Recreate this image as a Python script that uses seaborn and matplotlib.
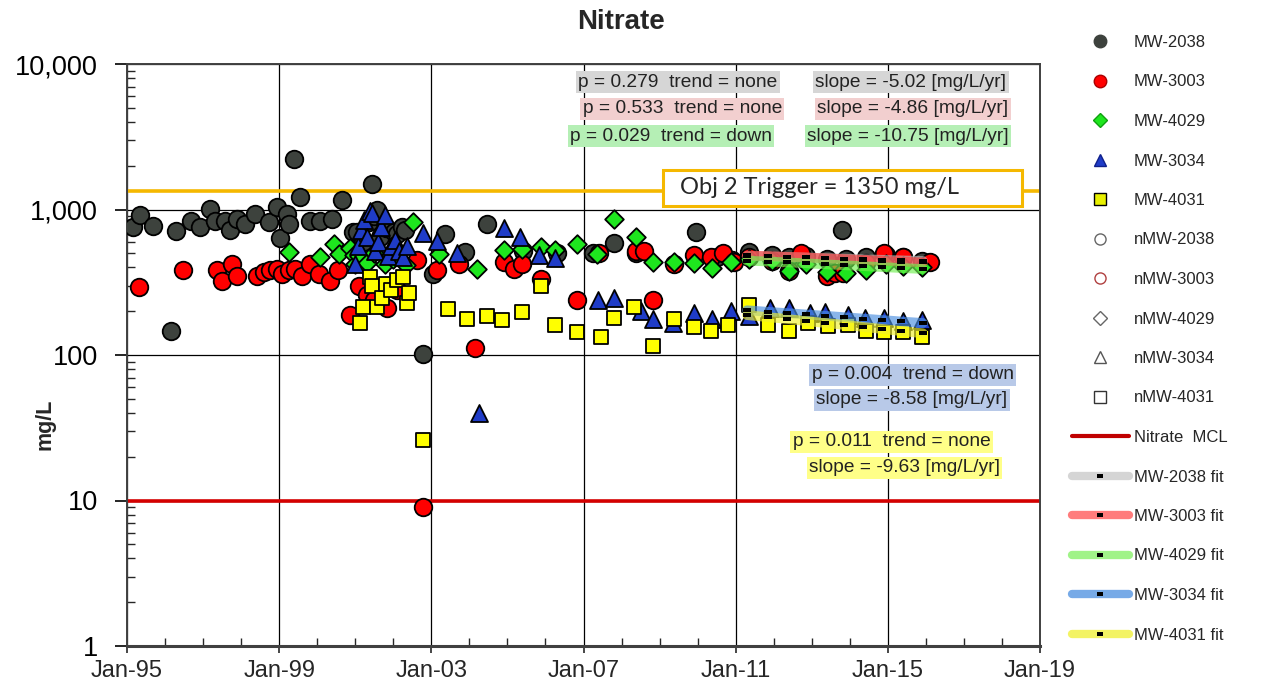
import numpy as np
import pandas as pd
import matplotlib
matplotlib.use("Agg")
import matplotlib.pyplot as plt
import seaborn as sns
from matplotlib.lines import Line2D
from matplotlib.patches import Rectangle
from matplotlib.legend_handler import HandlerTuple
from matplotlib.ticker import FixedLocator, FuncFormatter, LogLocator, NullFormatter

# ---------------- data (decimal years, mg/L) ----------------
mw2038_dates = [1995.15, 1995.34, 1995.69, 1996.15, 1996.29, 1996.68, 1996.92, 1997.18, 1997.32, 1997.58,
                1997.71, 1997.89, 1998.11, 1998.37, 1998.72, 1998.94, 1999.03, 1999.20, 1999.25, 1999.38,
                1999.54, 1999.82, 2000.08, 2000.39, 2000.66, 2000.93,
                2001.05, 2001.20, 2001.35, 2001.44, 2001.50, 2001.57, 2001.65, 2001.80, 2002.01, 2002.10,
                2002.23, 2002.30, 2002.79, 2003.05, 2003.37, 2003.89, 2004.46, 2005.40, 2006.30, 2007.26,
                2007.79, 2008.37, 2009.95, 2010.50, 2010.90,
                2011.35, 2011.95, 2012.40, 2012.84, 2013.39, 2013.79, 2013.89, 2014.42, 2014.94, 2015.41, 2015.89]
mw2038_vals = [757, 910, 768, 147, 710, 831, 757, 1010, 840, 840,
               718, 862, 789, 933, 818, 1038, 638, 933, 797, 2230,
               1228, 840, 840, 862, 1165, 699,
               700, 600, 820, 1500, 900, 985, 650, 750, 699, 680,
               757, 720, 102, 360, 681, 509, 789, 520, 500, 499,
               593, 499, 695, 470, 450,
               510, 490, 470, 480, 460, 718, 455, 470, 490, 475, 440]

mw3003_dates = [1995.32, 1996.46, 1997.36, 1997.49, 1997.75, 1997.89, 1998.41, 1998.59, 1998.76, 1998.94,
                1999.07, 1999.25, 1999.42, 1999.60, 1999.82, 2000.04, 2000.34, 2000.54, 2000.87,
                2001.10, 2001.30, 2001.50, 2001.84, 2002.10, 2002.63, 2002.79, 2003.16, 2003.72, 2004.16,
                2004.90, 2005.17, 2005.39, 2005.88, 2006.83, 2007.40, 2008.37, 2008.58, 2008.82, 2009.37,
                2009.90, 2010.34, 2010.66, 2010.95,
                2011.35, 2011.95, 2012.40, 2012.71, 2013.39, 2013.60, 2013.82, 2014.42, 2014.89, 2015.41, 2016.10]
mw3003_vals = [292, 381, 381, 325, 424, 351, 351, 370, 381, 391,
               361, 381, 391, 351, 424, 361, 325, 381, 187,
               300, 260, 240, 212, 280, 447, 9, 381, 424, 111,
               434, 391, 424, 334, 237, 499, 522, 522, 237, 420,
               483, 468, 506, 433,
               470, 440, 380, 506, 350, 365, 364, 430, 499, 470, 435]

mw4029_dates = [1999.25, 2000.08, 2000.43, 2000.56, 2000.85, 2000.96, 2001.00, 2001.10, 2001.30, 2001.50,
                2001.79, 2002.00, 2002.34, 2002.51, 2003.19, 2004.20, 2004.90, 2005.39, 2005.88, 2006.26,
                2006.82, 2007.35, 2007.79, 2008.37, 2008.82, 2009.37, 2009.90, 2010.39, 2010.87,
                2011.35, 2011.95, 2012.40, 2012.84, 2013.39, 2013.89, 2014.42, 2014.94, 2015.41, 2015.89]
mw4029_vals = [509, 470, 581, 496, 540, 483, 424, 480, 430, 500,
               424, 460, 413, 818, 496, 391, 528, 534, 551, 523,
               581, 496, 867, 643, 433, 433, 426, 399, 433,
               460, 440, 380, 420, 370, 365, 385, 420, 410, 400]

mw3034_dates = [2001.00, 2001.08, 2001.15, 2001.22, 2001.30, 2001.38, 2001.45, 2001.52, 2001.60, 2001.68,
                2001.79, 2001.86, 2001.95, 2002.05, 2002.15, 2002.25, 2002.35,
                2002.79, 2003.16, 2003.68, 2004.24, 2004.90, 2005.34, 2005.82, 2006.26, 2007.37,
                2007.79, 2008.50, 2008.82, 2009.34, 2009.90, 2010.39, 2010.87,
                2011.35, 2011.90, 2012.40, 2012.95, 2013.35, 2013.95, 2014.40, 2014.90, 2015.40, 2015.90]
mw3034_vals = [420, 560, 720, 850, 650, 980, 940, 520, 600, 760,
               910, 480, 560, 620, 520, 470, 560,
               684, 612, 499, 40, 752, 643, 483, 461, 237,
               245, 202, 178, 165, 193, 178, 202,
               185, 212, 209, 193, 196, 187, 180, 181, 170, 173]

mw4031_dates = [2001.13, 2001.21, 2001.39, 2001.45, 2001.58, 2001.71, 2001.80, 2001.95, 2002.10, 2002.25,
                2002.37, 2002.40, 2002.79, 2003.45, 2003.95, 2004.47, 2004.87, 2005.39, 2005.87, 2006.26,
                2006.84, 2007.45, 2007.79, 2008.32, 2008.82, 2009.37, 2009.90, 2010.34, 2010.79,
                2011.35, 2011.84, 2012.40, 2012.89, 2013.42, 2013.95, 2014.42, 2014.90, 2015.40, 2015.89]
mw4031_vals = [167, 215, 341, 300, 213, 248, 310, 280, 330, 341,
               226, 265, 26, 206, 178, 184, 173, 196, 296, 160,
               145, 132, 181, 215, 116, 178, 155, 147, 160,
               222, 160, 147, 167, 157, 160, 147, 143, 143, 134]

fit_dates = [2011.30, 2011.85, 2012.35, 2012.85, 2013.35, 2013.85, 2014.35, 2014.85, 2015.35, 2015.92]
fit_2038 = [480, 476, 472, 468, 463, 459, 455, 451, 447, 443]
fit_3003 = [483, 478, 473, 468, 462, 456, 450, 444, 438, 433]
fit_4029 = [445, 439, 433, 427, 420, 414, 408, 402, 396, 390]
fit_3034 = [203, 198, 194, 190, 186, 182, 178, 174, 170, 166]
fit_4031 = [188, 182, 177, 171, 166, 161, 156, 151, 146, 141]

trigger_value = 1350
mcl_value = 10

x_tick_years = [1995, 1999, 2003, 2007, 2011, 2015, 2019]
x_tick_labels = ["Jan-95", "Jan-99", "Jan-03", "Jan-07", "Jan-11", "Jan-15", "Jan-19"]
y_ticks = [1, 10, 100, 1000, 10000]

stats_text = [
    ("p = 0.279  trend = none", "slope = -5.02 [mg/L/yr]"),
    ("p = 0.533  trend = none", "slope = -4.86 [mg/L/yr]"),
    ("p = 0.029  trend = down", "slope = -10.75 [mg/L/yr]"),
    ("p = 0.004  trend = down", "slope = -8.58 [mg/L/yr]"),
    ("p = 0.011  trend = none", "slope = -9.63 [mg/L/yr]"),
]

# ---------------- style ----------------
sns.set_theme(style="white")
plt.rcParams['font.family'] = ['Liberation Sans', 'DejaVu Sans']

C_GRAY = "#3d423d"
C_RED = "#ff0000"
C_GREEN = "#1ee61e"
C_BLUE = "#1f3cc8"
C_YELLOW = "#ffff00"

fig = plt.figure(figsize=(12.67, 6.88), dpi=100)
ax = fig.add_axes([127 / 1267, 42 / 688, 913 / 1267, 582 / 688])

series = [
    (mw2038_dates, mw2038_vals, "o", C_GRAY, 160),
    (mw3003_dates, mw3003_vals, "o", C_RED, 160),
    (mw4029_dates, mw4029_vals, "D", C_GREEN, 90),
    (mw3034_dates, mw3034_vals, "^", C_BLUE, 150),
    (mw4031_dates, mw4031_vals, "s", C_YELLOW, 110),
]
for i, (d, v, m, c, s) in enumerate(series):
    df = pd.DataFrame({"date": d, "value": v})
    sns.scatterplot(data=df, x="date", y="value", ax=ax, marker=m, color=c, s=s,
                    edgecolor="black", linewidth=1.3, legend=False, zorder=3 + i)

# reference lines
ax.axhline(trigger_value, color="#f5b800", lw=2.6, zorder=2)
ax.axhline(mcl_value, color="#d40000", lw=2.6, zorder=2)

# fits
dash_marker = [(-1, -0.45), (1, -0.45), (1, 0.45), (-1, 0.45), (-1, -0.45)]
fits = [(fit_2038, "#bdbdbd"), (fit_3003, "#ff4040"), (fit_4029, "#70f050"),
        (fit_3034, "#4a8ee0"), (fit_4031, "#f0f030")]
for j, (fv, fc) in enumerate(fits):
    dff = pd.DataFrame({"date": fit_dates, "value": fv})
    sns.lineplot(data=dff, x="date", y="value", ax=ax, color=fc, lw=7, alpha=0.65,
                 estimator=None, legend=False, zorder=10 + j)
    ax.plot(fit_dates, fv, ls="none", marker=dash_marker, ms=6, color="black", mew=0, zorder=16)

# axes
ax.set_yscale("log")
ax.set_ylim(1, 10000)
ax.set_xlim(1995, 2019)
ax.set_xlabel("")
ax.set_ylabel("")
ax.xaxis.set_major_locator(FixedLocator(x_tick_years))
ax.set_xticklabels(x_tick_labels)
ax.xaxis.set_minor_locator(FixedLocator(list(range(1995, 2020))))
ax.yaxis.set_major_locator(FixedLocator(y_ticks))
ax.yaxis.set_major_formatter(FuncFormatter(lambda v, p: f"{v:,.0f}"))
ax.yaxis.set_minor_locator(LogLocator(base=10, subs=np.arange(2, 10)))
ax.yaxis.set_minor_formatter(NullFormatter())
ax.grid(True, which="major", color="black", lw=0.9)
ax.set_axisbelow(True)
ax.tick_params(axis="y", which="major", direction="out", length=9, width=1.2, labelsize=19.5, pad=12,
               colors="black", left=True)
ax.tick_params(axis="y", which="minor", direction="in", length=6, width=1, left=True)
ax.tick_params(axis="x", which="major", direction="out", length=5, width=1.2, labelsize=17, pad=5,
               bottom=True)
ax.tick_params(axis="x", which="minor", direction="in", length=6, width=1, bottom=True)
for sp in ax.spines.values():
    sp.set_color("#404040")
    sp.set_linewidth(1.4)
ax.spines["bottom"].set_linewidth(2.2)

# trigger box
ax.add_patch(Rectangle((0.587, 0.756), 0.393, 0.062, transform=ax.transAxes, facecolor="white",
                       edgecolor="#f5b800", lw=2.2, zorder=20))
ax.text(0.606, 0.787, "Obj 2 Trigger = 1350 mg/L", transform=ax.transAxes, ha="left", va="center",
        fontsize=17, family=["Lato", "DejaVu Sans"], zorder=21)

# stats annotations
pos = [((0.494, 0.969), (0.754, 0.969), "#d6d6d6"),
       ((0.499, 0.923), (0.756, 0.923), "#f2cfcf"),
       ((0.485, 0.876), (0.745, 0.876), "#b5efb5")]
for k, (pp, sp_, bg) in enumerate(pos):
    for (xx, yy), txt in zip([pp, sp_], stats_text[k]):
        ax.text(xx, yy, txt, transform=ax.transAxes, ha="left", va="center", fontsize=13.8,
                color="#222222", zorder=22,
                bbox=dict(boxstyle="square,pad=0.12", facecolor=bg, edgecolor="none"))

for (xx, yy), txt, bg in [((0.750, 0.466), stats_text[3][0], "#b8c9e8"),
                          ((0.755, 0.423), stats_text[3][1], "#b8c9e8"),
                          ((0.729, 0.351), stats_text[4][0], "#ffff88"),
                          ((0.747, 0.306), stats_text[4][1], "#ffff88")]:
    ax.text(xx, yy, txt, transform=ax.transAxes, ha="left", va="center", fontsize=13.8,
            color="#222222", zorder=22, bbox=dict(boxstyle="square,pad=0.12", facecolor=bg, edgecolor="none"))

# title and y label
fig.text(0.49, 1 - 22 / 688, "Nitrate", ha="center", va="center", fontsize=20, fontweight="bold")
fig.text(45 / 1267, 1 - 424 / 688, "mg/L", ha="center", va="center", rotation=90, fontsize=15.5,
         fontweight="bold")

# legend
def mk(marker, face, edge, ms=9, mew=1.0):
    return Line2D([], [], ls="none", marker=marker, markerfacecolor=face, markeredgecolor=edge,
                  markersize=ms, markeredgewidth=mew)

def fit_handle(color):
    return (Line2D([], [], color=color, lw=6, alpha=0.75),
            Line2D([], [], ls="none", marker=dash_marker, ms=5, color="black", mew=0))

handles = [mk("o", C_GRAY, C_GRAY, 9), mk("o", C_RED, "#aa0000", 9), mk("D", C_GREEN, "#10a010", 7),
           mk("^", C_BLUE, "#10208a", 9), mk("s", "#e8f000", "black", 8),
           mk("o", "white", "#666666", 8), mk("o", "white", "#b04040", 8), mk("D", "white", "#666666", 7),
           mk("^", "white", "#555555", 8), mk("s", "white", "#333333", 8),
           Line2D([], [], color="#c00000", lw=3),
           fit_handle("#c8c8c8"), fit_handle("#ff5050"), fit_handle("#80f060"),
           fit_handle("#4a8ee0"), fit_handle("#f0f030")]
labels = ["MW-2038", "MW-3003", "MW-4029", "MW-3034", "MW-4031",
          "nMW-2038", "nMW-3003", "nMW-4029", "nMW-3034", "nMW-4031",
          "Nitrate  MCL", "MW-2038 fit", "MW-3003 fit", "MW-4029 fit", "MW-3034 fit", "MW-4031 fit"]
fig.legend(handles, labels, loc="upper left", bbox_to_anchor=(1072 / 1267, 1 - 35 / 688),
           frameon=False, fontsize=12, labelspacing=1.47, handlelength=3.4, handletextpad=0.3,
           borderaxespad=0, borderpad=0, handler_map={tuple: HandlerTuple(ndivide=1, pad=0)})

fig.savefig("out.png", dpi=100)
